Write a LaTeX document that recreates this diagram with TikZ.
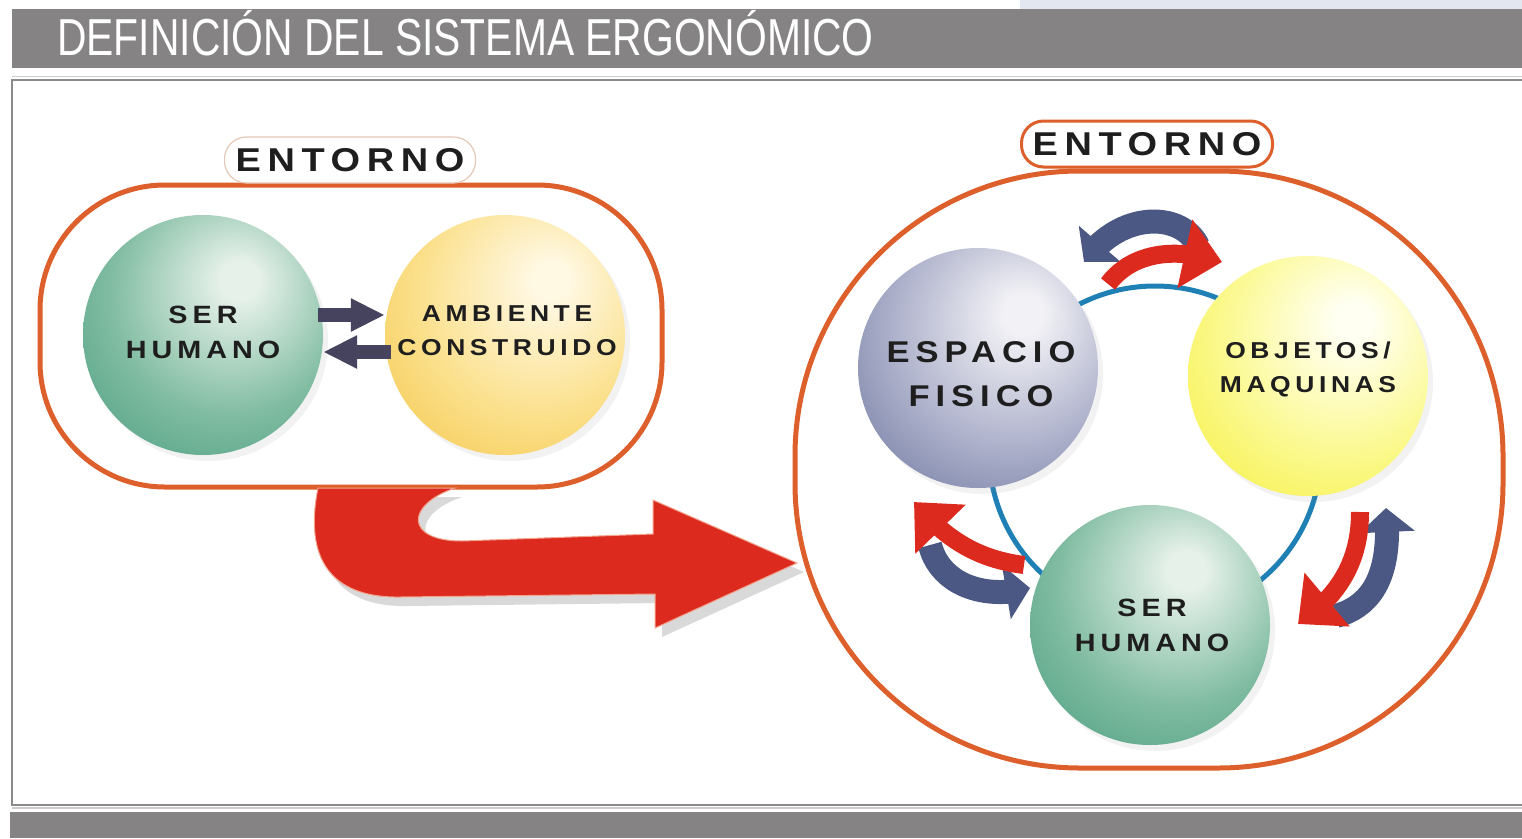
\documentclass[tikz,border=0pt]{standalone}
\usepackage{fontspec}
\setmainfont{Liberation Sans}
\newfontfamily\titlefont[FakeStretch=0.785]{Liberation Sans}
\newfontfamily\globefont[LetterSpace=20,FakeStretch=1.15]{Liberation Sans}
\usetikzlibrary{arrows.meta,bending,shadows}

\definecolor{hdrgray}{HTML}{858384}
\definecolor{hdrpale}{HTML}{E2E7F0}
\definecolor{framegray}{HTML}{8A8A8A}
\definecolor{envorange}{HTML}{DD5F2B}
\definecolor{pillpale}{HTML}{E6C8B8}
\definecolor{labeltext}{HTML}{1E1E1E}
\definecolor{blockdark}{HTML}{45435E}
\definecolor{sweepred}{HTML}{DC2A1F}
\definecolor{sweepedge}{HTML}{F2A48E}
\definecolor{swirlblue}{HTML}{4A5883}
\definecolor{ringblue}{HTML}{1F80B5}

\definecolor{greenhi}{HTML}{E6F1EA}
\definecolor{greenmid}{HTML}{80BCA1}
\definecolor{greenedge}{HTML}{43997C}
\definecolor{greendark}{HTML}{388B6F}
\definecolor{amberhi}{HTML}{FFF8E2}
\definecolor{ambermid}{HTML}{FBE08C}
\definecolor{amberedge}{HTML}{F3C444}
\definecolor{amberdark}{HTML}{EAB532}
\definecolor{slatehi}{HTML}{F2F2F6}
\definecolor{slatemid}{HTML}{ACB0CA}
\definecolor{slateedge}{HTML}{67709A}
\definecolor{slatedark}{HTML}{586187}
\definecolor{lemonhi}{HTML}{FFFFF2}
\definecolor{lemonmid}{HTML}{FBF98E}
\definecolor{lemonedge}{HTML}{F5EE36}
\definecolor{lemondark}{HTML}{ECDF2C}

\pgfdeclareradialshading{greenball}{\pgfpoint{8bp}{12bp}}{color(0bp)=(greenhi); color(4bp)=(greenhi); color(25bp)=(greenmid); color(45bp)=(greenedge); color(58bp)=(greendark); color(80bp)=(greendark)}
\pgfdeclareradialshading{amberball}{\pgfpoint{10bp}{12bp}}{color(0bp)=(amberhi); color(4bp)=(amberhi); color(25bp)=(ambermid); color(45bp)=(amberedge); color(58bp)=(amberdark); color(80bp)=(amberdark)}
\pgfdeclareradialshading{slateball}{\pgfpoint{10bp}{12bp}}{color(0bp)=(slatehi); color(4bp)=(slatehi); color(25bp)=(slatemid); color(45bp)=(slateedge); color(58bp)=(slatedark); color(80bp)=(slatedark)}
\pgfdeclareradialshading{lemonball}{\pgfpoint{10bp}{12bp}}{color(0bp)=(lemonhi); color(4bp)=(lemonhi); color(25bp)=(lemonmid); color(45bp)=(lemonedge); color(58bp)=(lemondark); color(80bp)=(lemondark)}

\def\bigsweep{(318,488) .. controls (302,568) and (340,598) .. (400,597) -- (655,594) -- (655,628) -- (797,563) -- (653,500) -- (653,534) -- (462,541) .. controls (405,541) and (405,505) .. (455,488) -- cycle}

\begin{document}
\begin{tikzpicture}[x=1pt,y=-1pt,
  envline/.style={draw=envorange, line width=5pt},
  pill/.style={fill=white, rounded corners=22pt, minimum width=251pt, minimum height=46pt, inner sep=0pt,
    text=labeltext, font=\globefont\bfseries\fontsize{33}{33}\selectfont},
  sphere/.style={circle, minimum size=240pt, inner sep=0pt,
    drop shadow={opacity=0.1, shadow xshift=5pt, shadow yshift=-6pt}},
  globetext/.style={align=center, text=labeltext, inner sep=0pt},
  smalltext/.style={font=\globefont\bfseries\fontsize{25}{35}\selectfont},
  blockarrow/.style={draw=blockdark, line width=14pt, -{Triangle[length=34pt,width=31pt]}},
  swirlred/.style={draw=sweepred, line width=18pt, -{Triangle[length=38pt,width=68pt,flex]}},
  swirlblue/.style={draw=swirlblue, line width=24pt, -{Triangle[length=24pt,width=54pt,flex]}},
  ring/.style={draw=ringblue, line width=5pt}]
  %%%%% HEADER %%%%%
  \useasboundingbox (0,0) rectangle (1522,838);
  \fill[white] (0,0) rectangle (1522,838);
  \fill[hdrpale] (1020,0) rectangle (1522,9);
  \fill[hdrgray] (12,9) rectangle (1522,68);
  \node[anchor=base west, inner sep=0pt, text=white, font=\titlefont\fontsize{52}{52}\selectfont] (title) at (57,55) {DEFINICIÓN DEL SISTEMA ERGONÓMICO};
  \draw[black!20, line width=1pt] (12,76) -- (1522,76);
  \draw[framegray, line width=2pt] (1522,80) -- (12,80) -- (12,805) -- (1522,805);
  \draw[black!20, line width=1.5pt] (12,808) -- (1522,808);
  \fill[hdrgray] (10,812) rectangle (1522,838);

  %%%%% LEFT: SIMPLE SYSTEM %%%%%
  \draw[envline, rounded corners=125pt] (40,185) rectangle (662,487);
  \node[pill, draw=pillpale, line width=1.2pt] (entL) at (350,160) {ENTORNO};

  \node[sphere, shading=greenball] (humL) at (203,335) {};
  \node[sphere, shading=amberball] (ambL) at (505,335) {};
  \node[globetext, smalltext] (humLtxt) at (203,332) {SER\\HUMANO};
  \node[globetext, font=\globefont\bfseries\fontsize{23}{34}\selectfont] (ambLtxt) at (507,331) {AMBIENTE\\CONSTRUIDO};

  \draw[blockarrow] ([xshift=-5pt,yshift=20pt]humL.east) -- ([yshift=20pt]ambL.west);
  \draw[blockarrow] ([xshift=6pt,yshift=-17pt]ambL.west) -- ([yshift=-17pt]humL.east);

  %%%%% BIG ARROW %%%%%
  \fill[black, opacity=0.15, shift={(7,9)}] \bigsweep;
  \filldraw[fill=sweepred, draw=sweepedge, line width=1pt] \bigsweep;

  %%%%% RIGHT: ERGONOMIC SYSTEM %%%%%
  \draw[envline, rounded corners=285pt] (795,171) rectangle (1503,768);
  \node[pill, draw=envorange, line width=3pt] (entR) at (1147,144) {ENTORNO};

  \coordinate (hub) at (1155,452);
  \draw[ring] (hub) circle (166pt);

  \node[sphere, shading=slateball] (espR) at (978,368) {};
  \node[sphere, shading=lemonball] (objR) at (1308,376) {};
  \node[sphere, shading=greenball] (humR) at (1150,625) {};
  \node[globetext, font=\globefont\bfseries\fontsize{30}{44}\selectfont] (espRtxt) at (981,374) {ESPACIO\\FISICO};
  \node[globetext, font=\globefont\bfseries\fontsize{23}{34}\selectfont] (objRtxt) at (1308,369) {OBJETOS/\\MAQUINAS};
  \node[globetext, smalltext] (humRtxt) at (1152,625) {SER\\HUMANO};

  % swirls between the spheres
  \draw[swirlblue] (1198,246) .. controls (1182,212) and (1120,210) .. (1084,262);
  \draw[swirlred] (1108,284) .. controls (1130,255) and (1170,245) .. (1222,262);

  \draw[swirlblue] (930,545) .. controls (940,585) and (985,600) .. (1030,588);
  \draw[swirlred] (1024,565) .. controls (985,560) and (950,545) .. (914,502);

  \draw[swirlblue] (1336,616) .. controls (1372,606) and (1392,575) .. (1386,508);
  \draw[swirlred] (1360,512) .. controls (1360,560) and (1340,595) .. (1298,624);
\end{tikzpicture}
\end{document}
